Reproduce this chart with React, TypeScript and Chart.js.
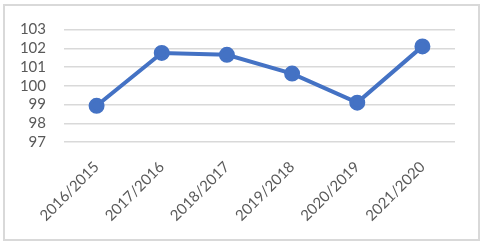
import React, { useEffect, useRef } from "react";
import { Chart, registerables } from "chart.js";

Chart.register(...registerables);

const categories = ["2016/2015", "2017/2016", "2018/2017", "2019/2018", "2020/2019", "2021/2020"];
const values = [98.93, 101.75, 101.65, 100.65, 99.1, 102.1];
const yMin = 97;
const yMax = 103;

export default function App() {
  const ref = useRef<HTMLCanvasElement | null>(null);
  useEffect(() => {
    if (!ref.current) return;
    const chart = new Chart(ref.current, {
      type: "line",
      data: {
        labels: categories,
        datasets: [
          {
            data: values,
            borderColor: "#4472C4",
            backgroundColor: "#4472C4",
            borderWidth: 4,
            pointRadius: 6,
            pointHoverRadius: 6,
            pointBackgroundColor: "#4472C4",
            pointBorderColor: "#4472C4",
            tension: 0,
          },
        ],
      },
      options: {
        responsive: false,
        animation: false,
        events: [],
        layout: { padding: { top: 29.5, right: 30, left: 0, bottom: 0 } },
        plugins: { legend: { display: false }, tooltip: { enabled: false } },
        scales: {
          x: {
            offset: true,
            grid: { display: false, drawTicks: false },
            border: { display: false },
            ticks: {
              color: "#595959",
              font: { family: "Lato", size: 15 },
              maxRotation: 45,
              minRotation: 45,
              padding: 16,
              autoSkip: false,
            },
            afterFit: (s: any) => {
              s.height = 104;
            },
          },
          y: {
            min: yMin,
            max: yMax,
            grid: { color: "#d9d9d9", lineWidth: 1.5, drawTicks: false },
            border: { display: false },
            ticks: {
              stepSize: 1,
              autoSkip: false,
              color: "#595959",
              font: { family: "Lato", size: 15 },
              padding: 18,
            },
            afterFit: (s: any) => {
              s.width = 64;
            },
          },
        },
      },
    });
    return () => chart.destroy();
  }, []);
  return (
    <div style={{ position: "absolute", left: 0, top: 0, width: 485, height: 246, background: "#fff" }}>
      <canvas ref={ref} width={485} height={246} style={{ position: "absolute", left: 0, top: 0 }} />
      <div
        style={{
          position: "absolute",
          left: 3,
          top: 4,
          width: 477,
          height: 237,
          boxSizing: "border-box",
          border: "2px solid #d9d9d9",
          pointerEvents: "none",
        }}
      />
    </div>
  );
}
